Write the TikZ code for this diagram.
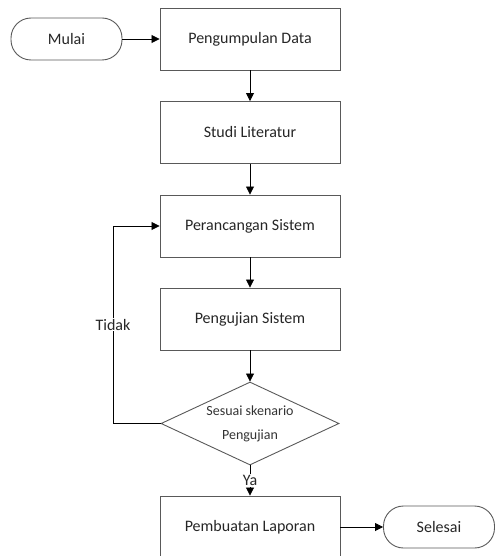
\documentclass[tikz,border=0pt]{standalone}
\usepackage{fontspec}
\setmainfont{Carlito}
\usetikzlibrary{shapes.geometric, arrows.meta}

\begin{document}
\begin{tikzpicture}[x=1pt, y=-1pt, >={Triangle[length=8pt,width=8pt]},
  proses/.style={draw=black!65, line width=0.9pt, minimum width=180pt, minimum height=62pt, font=\fontsize{16}{19}\selectfont, text=black!85},
  terminal/.style={draw=black!65, line width=0.9pt, rounded corners=20pt, minimum width=111pt, minimum height=42pt, font=\fontsize{16}{19}\selectfont, text=black!85},
  keputusan/.style={draw=black!65, line width=0.9pt, diamond, aspect=2.14, inner sep=0pt, minimum width=178pt, minimum height=83pt, align=center, font=\fontsize{14}{16}\selectfont, text=black!80},
  alur/.style={->, line width=0.8pt},
  teks/.style={fill=white, inner sep=1pt, font=\fontsize{16}{19}\selectfont, text=black!85}]
\useasboundingbox (0,0) rectangle (495,556);
% mulai dan proses
\node[terminal] (mulai) at (66.5,39) {Mulai};
\node[proses] (data) at (250,39) {Pengumpulan Data};
\node[proses] (studi) at (250,132.5) {Studi Literatur};
\node[proses] (rancang) at (250,226) {Perancangan Sistem};
\node[proses] (uji) at (250,319) {Pengujian Sistem};
% keputusan
\node[keputusan] (cek) at (250,423.5) {Sesuai skenario\\[8pt]Pengujian};
\node[proses] (laporan) at (250,527) {Pembuatan Laporan};
\node[terminal] (selesai) at (439,527) {Selesai};
% alur
\draw[alur] (mulai) -- (data);
\draw[alur] (data) -- (studi);
\draw[alur] (studi) -- (rancang);
\draw[alur] (rancang) -- (uji);
\draw[alur] (uji) -- (cek);
\draw[alur] (cek) -- node[teks] {Ya} (laporan);
\draw[alur] (laporan) -- (selesai);
\coordinate (kiri) at (113,423.5);
\draw[alur] (cek.west) -- (kiri) -- node[teks, pos=0.5] {Tidak} (kiri |- rancang) -- (rancang.west);
\end{tikzpicture}
\end{document}
